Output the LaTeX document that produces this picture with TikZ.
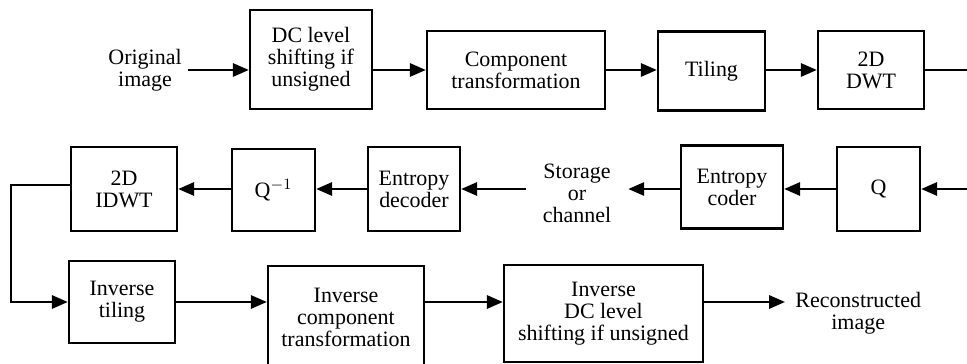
\documentclass[tikz,border=0pt]{standalone}
\usepackage{fontspec}
\setmainfont{Liberation Serif}
\usetikzlibrary{positioning,arrows.meta}

\begin{document}
\begin{tikzpicture}[x=0.02cm, y=-0.02cm, >={Triangle[length=9pt,width=7.5pt]},
    block/.style={rectangle, draw, line width=1.4pt, inner sep=0pt, align=center, font=\fontsize{12.5}{12.5}\selectfont},
    txt/.style={align=center, font=\fontsize{12.5}{12.5}\selectfont},
    flow/.style={->, line width=1.3pt}]

\useasboundingbox (0,0) rectangle (967,364);

% Forward chain
\node[txt, anchor=east, inner xsep=0.12cm] (orig) at (188,70) {Original\\image};
\node[block, minimum width=2.44cm, minimum height=1.98cm] (dcshift) at (311,59.5) {DC level\\shifting if\\unsigned};
\node[block, minimum width=3.56cm, minimum height=1.56cm] (comp) at (516,70) {Component\\transformation};
\node[block, minimum width=2.14cm, minimum height=1.58cm] (tiling) at (711.5,71) {Tiling};
\node[block, minimum width=2.12cm, minimum height=1.56cm] (dwt) at (871,70) {2D\\DWT};
\coordinate (dwtout) at (967,70);

% Coding and decoding
\coordinate (qin) at (967,189);
\node[block, minimum width=1.66cm, minimum height=1.68cm] (quant) at (878.5,189) {Q};
\node[block, minimum width=2.04cm, minimum height=1.66cm] (ecoder) at (732,187) {Entropy\\coder};
\node[txt, minimum width=2.04cm] (store) at (577,193) {Storage\\or\\channel};
\node[block, minimum width=1.84cm, minimum height=1.68cm] (edecoder) at (414,189) {Entropy\\decoder};
\node[block, minimum width=1.66cm, minimum height=1.64cm] (dequant) at (273.5,190) {Q$^{-1}$};
\node[block, minimum width=2.12cm, minimum height=1.68cm] (idwt) at (124,189) {2D\\IDWT};

% Inverse chain
\node[block, minimum width=2.12cm, minimum height=1.64cm] (itile) at (122,302) {Inverse\\tiling};
\node[block, minimum width=3.12cm, minimum height=2.04cm] (icomp) at (346,317) {Inverse\\component\\transformation};
\node[block, minimum width=3.98cm, minimum height=1.94cm] (idcshift) at (603.5,313.5) {Inverse\\DC level\\shifting if unsigned};
\node[txt, anchor=west, inner xsep=0.2cm] (recon) at (785,313) {Reconstructed\\image};

% Connections
\draw[flow] (orig.east) -- (dcshift.west |- orig.east);
\draw[flow] (dcshift.east |- comp.west) -- (comp.west);
\draw[flow] (comp.east) -- (tiling.west |- comp.east);
\draw[flow] (tiling.east |- comp.east) -- (dwt.west);
\draw[line width=1.3pt] (dwt.east) -- (dwtout);

\draw[flow] (qin) -- (quant.east);
\draw[flow] (quant.west) -- (ecoder.east |- quant.west);
\draw[flow] (ecoder.west |- quant.west) -- (store.east |- quant.west);
\draw[flow] (store.west |- quant.west) -- (edecoder.east |- quant.west);
\draw[flow] (edecoder.west) -- (dequant.east |- edecoder.west);
\draw[flow] (dequant.west |- edecoder.west) -- (idwt.east |- edecoder.west);
\draw[flow] ([yshift=0.08cm]idwt.west) -- ++(-59,0) |- (itile.west);

\draw[flow] (itile.east) -- (icomp.west |- itile.east);
\draw[flow] (icomp.east |- itile.east) -- (idcshift.west |- itile.east);
\draw[flow] (idcshift.east |- itile.east) -- (recon.west |- itile.east);

\end{tikzpicture}
\end{document}
